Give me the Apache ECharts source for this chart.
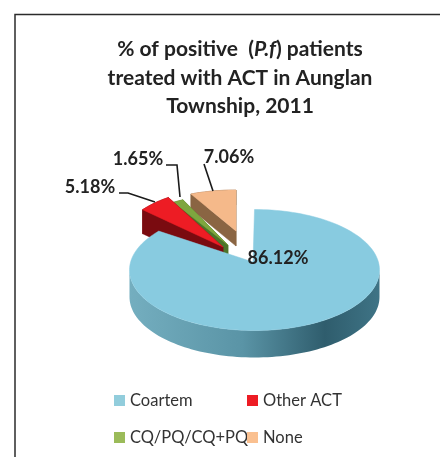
<!DOCTYPE html>
<html>
<head>
<meta charset="utf-8">
<script src="https://cdn.jsdelivr.net/npm/echarts@6/dist/echarts.min.js"></script>
<style>
  html, body { margin: 0; padding: 0; background: #fff; }
  #chart { width: 440px; height: 457px; }
</style>
</head>
<body>
<div id="chart"></div>
<script>
// values
const categories = ["Coartem", "Other ACT", "CQ/PQ/CQ+PQ", "None"];
const shares = [86.12, 5.18, 1.65, 7.06];

const topColors = ["#88cbe0", "#ed1c24", "#7ea63f", "#f5b98a"];
const legendColors = ["#92cddc", "#ed1c24", "#9bbb59", "#fac090"];
const wallColors = [null, "#7a0b10", "#4c7429", "#8a6543"];

// tilted pie: where each exploded slice sits on the page
const sliceShapes = [
  { apexX: 253, apexY: 262, cx: 254.5, cy: 270, rx: 125, ry: 60.5, depth: 27 },
  { apexX: 223, apexY: 247, cx: 223, cy: 247, rx: 105, ry: 58, depth: 24 },
  { apexX: 228, apexY: 245, cx: 228, cy: 245, rx: 105, ry: 50, depth: 16 },
  { apexX: 236, apexY: 231, cx: 236, cy: 231, rx: 105, ry: 41, depth: 15 }
];

const labelSpots = [
  { x: 278, y: 258, leader: null },
  { x: 90, y: 187, leader: [[119, 193], [128, 193], [155, 202]] },
  { x: 138, y: 159, leader: [[166, 165], [177, 165], [180, 197]] },
  { x: 229, y: 157, leader: [[204, 164], [213, 191]] }
];

const total = shares.reduce((a, b) => a + b, 0);

const arcPoint = (s, deg, drop) => {
  const r = (deg * Math.PI) / 180;
  return [s.cx + s.rx * Math.sin(r), s.cy - s.ry * Math.cos(r) + drop];
};

const arcPoints = (s, from, to, drop) => {
  const steps = Math.max(2, Math.ceil(Math.abs(to - from) / 2));
  const pts = [];
  for (let i = 0; i <= steps; i++) {
    pts.push(arcPoint(s, from + ((to - from) * i) / steps, drop));
  }
  return pts;
};

// blue front wall shading, left to right
const blueWall = {
  type: "linear",
  x: 130,
  y: 0,
  x2: 380,
  y2: 0,
  global: true,
  colorStops: [
    { offset: 0, color: "#74aebf" },
    { offset: 0.45, color: "#5a94a6" },
    { offset: 0.78, color: "#2f5d6d" },
    { offset: 1, color: "#3f7486" }
  ]
};

const renderSlice = (idx) => (params, api) => {
  const value = api.value(0);
  const before = shares.slice(0, idx).reduce((a, b) => a + b, 0);
  const start = (before / total) * 360;
  const end = start + (value / total) * 360;
  const s = sliceShapes[idx];
  const apex = [s.apexX, s.apexY];
  const apexLow = [s.apexX, s.apexY + s.depth];
  const wall = idx === 0 ? blueWall : wallColors[idx];
  const children = [];

  const poly = (points, fill) => ({
    type: "polygon",
    shape: { points },
    style: { fill, stroke: typeof fill === "string" ? fill : null, lineWidth: 0.5 }
  });

  if (idx === 0) {
    // only the front of the big slice shows
    const top = arcPoints(s, 90, 270, 0);
    const low = arcPoints(s, 90, 270, s.depth).reverse();
    children.push(poly(top.concat(low), wall));
  } else {
    const top = arcPoints(s, start, end, 0);
    const low = arcPoints(s, start, end, s.depth).reverse();
    children.push(poly(top.concat(low), wall));
    children.push(poly([apex, top[0], low[low.length - 1], apexLow], wall));
    children.push(poly([apex, top[top.length - 1], low[0], apexLow], wall));
  }

  children.push(poly([apex].concat(arcPoints(s, start, end, 0)), topColors[idx]));

  const spot = labelSpots[idx];
  if (spot.leader) {
    children.push({
      type: "polyline",
      shape: { points: spot.leader },
      style: { fill: null, stroke: "#1a1a1a", lineWidth: 1.6 },
      z2: 50
    });
  }
  children.push({
    type: "text",
    x: spot.x,
    y: spot.y,
    style: {
      text: value.toFixed(2) + "%",
      font: "bold 18px Lato, sans-serif",
      fill: "#222",
      align: "center",
      verticalAlign: "middle"
    },
    z2: 60
  });

  return { type: "group", children };
};

const chart = echarts.init(document.getElementById("chart"));

const option = {
  animation: false,
  backgroundColor: "#fff",
  title: {
    left: 235,
    top: 30,
    textAlign: "center",
    text: "% of positive  ({i|P.f}) patients\ntreated with ACT in Aunglan\nTownship, 2011",
    textStyle: {
      fontFamily: "Lato, sans-serif",
      fontSize: 21,
      fontWeight: "bold",
      color: "#222",
      lineHeight: 28.5,
      rich: {
        i: {
          fontFamily: "Lato, sans-serif",
          fontSize: 21,
          fontWeight: "bold",
          fontStyle: "italic",
          color: "#222",
          lineHeight: 28.5
        }
      }
    }
  },
  legend: [
    {
      data: [categories[0], categories[2]],
      orient: "vertical",
      left: 114,
      top: 390,
      icon: "rect",
      itemWidth: 11,
      itemHeight: 11,
      itemGap: 16,
      padding: 0,
      selectedMode: false,
      textStyle: { fontFamily: "Lato, sans-serif", fontSize: 16.5, color: "#333", lineHeight: 21 }
    },
    {
      data: [categories[1], categories[3]],
      orient: "vertical",
      left: 247,
      top: 390,
      icon: "rect",
      itemWidth: 11,
      itemHeight: 11,
      itemGap: 16,
      padding: 0,
      selectedMode: false,
      textStyle: { fontFamily: "Lato, sans-serif", fontSize: 16.5, color: "#333", lineHeight: 21 }
    }
  ],
  graphic: [
    {
      type: "polyline",
      shape: { points: [[15, 457], [15, 14.5], [440, 14.5]] },
      style: { fill: null, stroke: "#2b2b2b", lineWidth: 1.5 }
    }
  ],
  // None first, big slice last so it covers the walls behind it
  series: [3, 2, 1, 0].map((idx, order) => ({
    type: "custom",
    name: categories[idx],
    coordinateSystem: "none",
    silent: true,
    z: 2 + order,
    itemStyle: { color: legendColors[idx] },
    data: [[shares[idx]]],
    renderItem: renderSlice(idx)
  }))
};

chart.setOption(option);
</script>
</body>
</html>
